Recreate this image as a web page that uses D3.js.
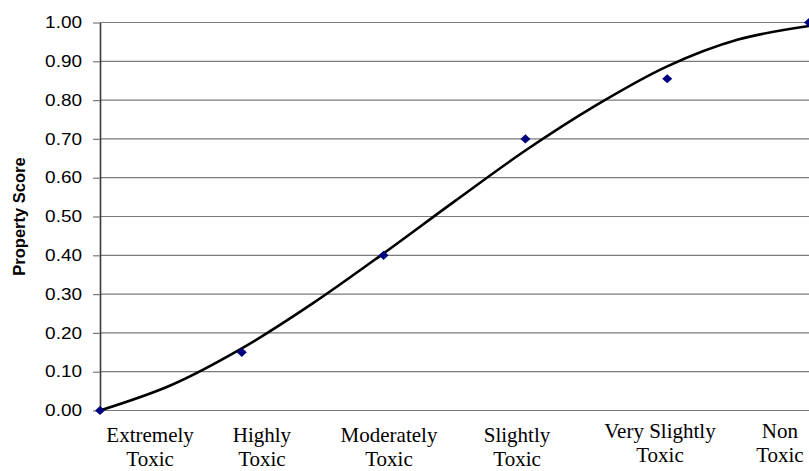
<!DOCTYPE html>
<html>
  <head>
    <style>
      body,
      html {
        margin: 0;
        padding: 0;
        background: #fff;
      }
    </style>
  </head>
  <body>
    <svg id="svg" width="809" height="471"></svg>
    <script src="https://cdn.jsdelivr.net/npm/d3@7"></script>
    <script>
      // categories and observed scores
      const categories = [
        ['Extremely', 'Toxic'],
        ['Highly', 'Toxic'],
        ['Moderately', 'Toxic'],
        ['Slightly', 'Toxic'],
        ['Very Slightly', 'Toxic'],
        ['Non', 'Toxic'],
      ];
      const scores = [0, 0.15, 0.4, 0.7, 0.855, 1.0];

      // trend line, at half-category steps
      const trendAt = [0, 0.5, 1, 1.5, 2, 2.5, 3, 3.5, 4, 4.5, 5];
      const trendVals = [0, 0.065, 0.16, 0.276, 0.405, 0.539, 0.67, 0.787, 0.887, 0.956, 0.991];

      // where the category captions sit (in category units) and their small lift
      const labelAt = [0.353, 1.142, 2.038, 2.941, 3.949, 4.795];
      const labelLift = [0, 0, 0, 0, 4, 4];

      const yTicks = [0, 0.1, 0.2, 0.3, 0.4, 0.5, 0.6, 0.7, 0.8, 0.9, 1.0];

      const width = 809;
      const height = 471;
      const margin = { top: 22.5, right: 0, bottom: 60.5, left: 100 };

      const x = d3
        .scaleLinear()
        .domain([0, categories.length - 1])
        .range([margin.left, width - margin.right]);
      const y = d3
        .scaleLinear()
        .domain([0, 1])
        .range([height - margin.bottom, margin.top]);

      const svg = d3.select('#svg');

      // gridlines
      svg
        .append('g')
        .selectAll('line')
        .data(yTicks)
        .enter()
        .append('line')
        .attr('x1', margin.left)
        .attr('x2', width - margin.right)
        .attr('y1', (d) => y(d))
        .attr('y2', (d) => y(d))
        .attr('stroke', '#7a7a7a')
        .attr('stroke-width', 1.2);

      // y axis
      const stretch = 1.15;
      const yAxis = svg
        .append('g')
        .attr('transform', `translate(${margin.left},0)`)
        .call(
          d3
            .axisLeft(y)
            .tickValues(yTicks)
            .tickFormat(d3.format('.2f'))
            .tickSize(7)
            .tickSizeOuter(0)
            .tickPadding(11)
        );
      yAxis.select('.domain').attr('stroke', '#3a3a3a').attr('stroke-width', 1.6);
      yAxis.selectAll('.tick line').attr('stroke', '#7a7a7a').attr('stroke-width', 1.2);
      yAxis
        .selectAll('.tick text')
        .attr('x', -18 / stretch)
        .attr('transform', `scale(${stretch},1)`)
        .attr('fill', '#000')
        .style('font-family', '"Liberation Sans", Arial, sans-serif')
        .style('font-size', '16.5px');

      // y title
      svg
        .append('text')
        .attr('transform', `translate(25,${(y(0) + y(1)) / 2}) rotate(-90)`)
        .attr('text-anchor', 'middle')
        .style('font-family', '"Liberation Sans", Arial, sans-serif')
        .style('font-weight', 'bold')
        .style('font-size', '16.5px')
        .text('Property Score');

      // trend line
      const line = d3
        .line()
        .x((d, i) => x(trendAt[i]))
        .y((d) => y(d))
        .curve(d3.curveCatmullRom);
      svg
        .append('path')
        .datum(trendVals)
        .attr('d', line)
        .attr('fill', 'none')
        .attr('stroke', '#000')
        .attr('stroke-width', 2.6)
        .attr('stroke-linejoin', 'round');

      // observed points (diamonds)
      svg
        .append('g')
        .selectAll('path')
        .data(scores)
        .enter()
        .append('path')
        .attr('transform', (d, i) => `translate(${x(i)},${y(d)})`)
        .attr('d', 'M0,-4.6L5,0L0,4.6L-5,0Z')
        .attr('fill', '#000080');

      // category captions
      const caps = svg
        .append('g')
        .selectAll('text')
        .data(categories)
        .enter()
        .append('text')
        .attr('text-anchor', 'middle')
        .attr('transform', (d, i) => `translate(${x(labelAt[i])},${y(0) + 31 - labelLift[i]})`)
        .style('font-family', '"Liberation Serif", "Times New Roman", serif')
        .style('font-size', '21px')
        .attr('fill', '#000');
      caps
        .selectAll('tspan')
        .data((d) => d)
        .enter()
        .append('tspan')
        .attr('x', 0)
        .attr('dy', (d, i) => (i === 0 ? 0 : 24))
        .text((d) => d);
    </script>
  </body>
</html>
